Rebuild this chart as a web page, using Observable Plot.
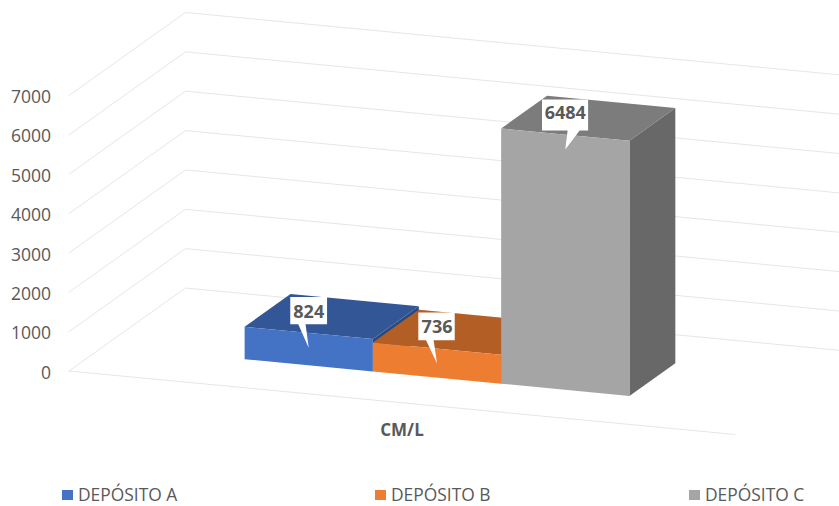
<!DOCTYPE html>
<html>
<head>
<meta charset="utf-8">
<script src="https://cdn.jsdelivr.net/npm/d3@7"></script>
<script src="https://cdn.jsdelivr.net/npm/@observablehq/plot@0.6"></script>
<style>
html,body{margin:0;padding:0;background:#fff;overflow:hidden}
#chart svg{display:block}
#legend{position:relative;height:26px;width:839px;font-family:"Open Sans",sans-serif;font-size:17.4px;color:#595959}
#legend .item{position:absolute;top:0;line-height:26px;white-space:nowrap}
#legend .sw{position:absolute;left:0;top:10px;width:11px;height:10px}
#legend .lb{position:absolute;left:16px;top:1px}
</style>
</head>
<body>
<div id="chart"></div>
<div id="legend"></div>
<script>
const categories = ["DEPÓSITO A", "DEPÓSITO B", "DEPÓSITO C"];
const values = [824, 736, 6484];
const valueTicks = [0, 1000, 2000, 3000, 4000, 5000, 6000, 7000];
const axisCategory = "CM/L";
const frontColors = ["#4472c4", "#ed7d31", "#a5a5a5"];
const topColors = ["#335696", "#b35e25", "#7c7c7c"];
const sideColors = ["#2a4a80", "#8f4b1d", "#686868"];
const legendLeft = [62, 375, 689];

// Oblique 3D projection, expressed in scale units
const shearX = 0.1749, shearY = 2109, slopeY = -1613;
const X = (u, w) => u + shearX * w;
const Y = (u, w, v) => v + slopeY * u + shearY * w;
const P = (u, w, v) => ({x: X(u, w), y: Y(u, w, v)});

// Bar footprint
const gapU = 0.2107, barU = 0.1926, w0 = 0.303, w1 = 0.697;
// Pixel to scale unit conversion
const pxX = 1 / 666, pxY = 1 / 0.03936;

const grid = valueTicks.map(v => [P(0, 0, v), P(0, 1, v), P(1, 1, v)]);
const floorFront = [P(0, 0, 0), P(1, 0, 0)];

const faces = [];
values.forEach((v, i) => {
  const a = gapU + i * barU, b = a + barU;
  faces.push({c: sideColors[i], pts: [P(b, w0, 0), P(b, w1, 0), P(b, w1, v), P(b, w0, v)]});
  faces.push({c: topColors[i], pts: [P(a, w0, v), P(b, w0, v), P(b, w1, v), P(a, w1, v)]});
  faces.push({c: frontColors[i], pts: [P(a, w0, 0), P(b, w0, 0), P(b, w0, v), P(a, w0, v)]});
});

// Callouts: anchored on the value of each bar, shape in pixels around the tip
const calloutShape = [
  {l: -18.5, r: 18.3, t: -51, b: -23.6, p0: -10.5, p1: -3.2},
  {l: -18.7, r: 17.7, t: -51, b: -23.4, p0: -11, p1: -3.4},
  {l: -23.3, r: 22.8, t: -50, b: -19, p0: 2.3, p1: 14.3}
];
const callouts = values.map((v, i) => {
  const u = gapU + (i + 0.5) * barU;
  const tx = X(u, w0), ty = Y(u, w0, v) - 15 * pxY;
  const s = calloutShape[i];
  const pt = (dx, dy) => ({x: tx + dx * pxX, y: ty - dy * pxY});
  return {
    text: String(v),
    lx: tx, ly: ty + 36 * pxY,
    pts: [pt(s.l, s.t), pt(s.r, s.t), pt(s.r, s.b), pt(s.p1, s.b), pt(0, 0), pt(s.p0, s.b), pt(s.l, s.b)]
  };
});

const chart = Plot.plot({
  width: 839,
  height: 480,
  marginLeft: 69,
  marginRight: 104,
  marginTop: 0,
  marginBottom: 0,
  style: {fontFamily: "'Open Sans', sans-serif", background: "#fff"},
  x: {domain: [0, 1], range: [68.5, 734.5], axis: null},
  y: {domain: [0, 7000], range: [370.5, 95], axis: null},
  marks: [
    ...grid.map(g => Plot.line(g, {x: "x", y: "y", stroke: "#e6e6e6", strokeWidth: 1})),
    Plot.line(floorFront, {x: "x", y: "y", stroke: "#e6e6e6", strokeWidth: 1}),
    Plot.axisY({ticks: valueTicks, tickSize: 0, tickPadding: 18.5, label: null, fontSize: 17.5, dy: 2, fill: "#595959", tickFormat: d => String(d)}),
    ...faces.map(f => Plot.line(f.pts, {x: "x", y: "y", fill: f.c, stroke: "none"})),
    ...callouts.map(c => Plot.line(c.pts, {x: "x", y: "y", fill: "#fff", stroke: "none"})),
    Plot.text(callouts, {x: "lx", y: "ly", text: "text", fontSize: 18, fontWeight: "bold", fill: "#595959"}),
    Plot.text([axisCategory], {x: 0.5, y: Y(0.5, 0, 0), dy: 27.5, text: d => d, fontSize: 17, fontWeight: "bold", fill: "#595959"})
  ]
});
document.getElementById("chart").append(chart);

const legend = d3.select("#legend");
categories.forEach((c, i) => {
  const it = legend.append("div").attr("class", "item").style("left", legendLeft[i] + "px");
  it.append("div").attr("class", "sw").style("background", frontColors[i]);
  it.append("div").attr("class", "lb").text(c);
});
</script>
</body>
</html>
